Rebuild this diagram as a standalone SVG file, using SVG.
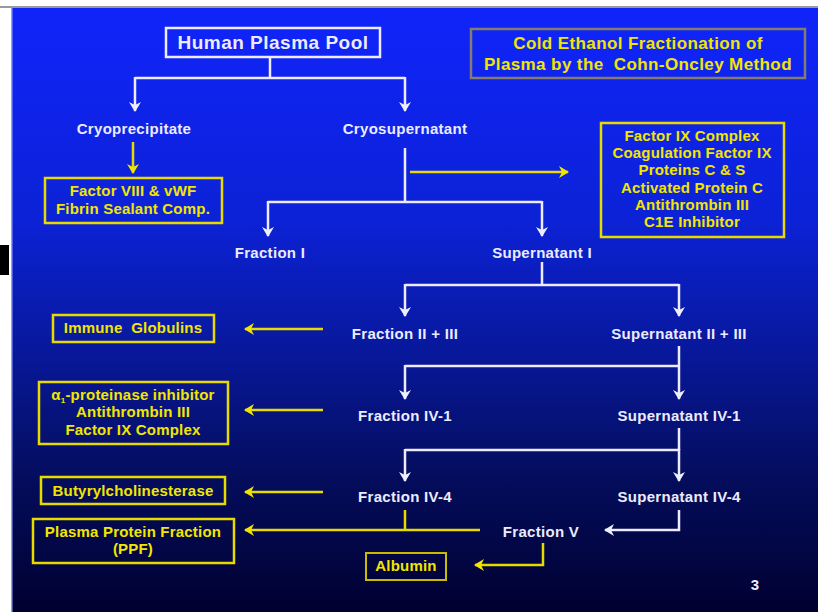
<svg xmlns="http://www.w3.org/2000/svg" width="818" height="612" viewBox="0 0 818 612">
  <defs>
    <linearGradient id="bg" x1="0" y1="0" x2="0" y2="1">
      <stop offset="0" stop-color="#1024fa"/>
      <stop offset="0.35" stop-color="#0c22d6"/>
      <stop offset="0.55" stop-color="#0819a0"/>
      <stop offset="0.78" stop-color="#040d5c"/>
      <stop offset="1" stop-color="#000030"/>
    </linearGradient>
    <marker id="aw" viewBox="0 0 10 12" markerWidth="10" markerHeight="12" refX="9" refY="6" orient="auto" markerUnits="userSpaceOnUse">
      <path d="M0,0 L10,6 L0,12 L3,6 Z" fill="#eeeeff"/>
    </marker>
    <marker id="ay" viewBox="0 0 10 12" markerWidth="10" markerHeight="12" refX="9" refY="6" orient="auto" markerUnits="userSpaceOnUse">
      <path d="M0,0 L10,6 L0,12 L3,6 Z" fill="#f2e600"/>
    </marker>
    <style>
      text { font-family: "Liberation Sans", Arial, sans-serif; font-weight: bold; text-anchor: middle; white-space: pre; }
      .w { fill: #ecebff; font-size: 15px; letter-spacing: 0.3px; }
      .y { fill: #f2e600; font-size: 15px; letter-spacing: 0.2px; }
      .t { fill: #f2e600; font-size: 17px; letter-spacing: 0.4px; }
      .lw { fill: none; stroke: #ecebff; stroke-width: 2.5; }
      .lwa { fill: none; stroke: #ecebff; stroke-width: 2.5; marker-end: url(#aw); }
      .ly { fill: none; stroke: #e6da00; stroke-width: 2.5; }
      .lya { fill: none; stroke: #e6da00; stroke-width: 2.5; marker-end: url(#ay); }
      .box { fill: none; stroke: #e6da00; stroke-width: 2.5; }
    </style>
  </defs>

  <!-- page frame -->
  <rect x="0" y="0" width="818" height="612" fill="#ffffff"/>
  <rect x="0" y="6" width="818" height="2" fill="#9a9a9a"/>
  <rect x="12" y="8" width="806" height="604" fill="url(#bg)"/>
  <rect x="11" y="8" width="1.5" height="604" fill="#8fa0ff"/>
  <rect x="0" y="245" width="9" height="30" fill="#000000"/>

  <!-- connectors -->
  <g id="connectors">
    <path class="lw" d="M270,57 V78 M135,78 H405"/>
    <path class="lwa" d="M135,77 V111"/>
    <path class="lwa" d="M405,77 V111"/>
    <path class="lya" d="M133,142 V173"/>
    <path class="lw" d="M405,148 V202 M268,202 H542"/>
    <path class="lya" d="M410,172 H568"/>
    <path class="lwa" d="M268,201 V236"/>
    <path class="lwa" d="M542,201 V236"/>
    <path class="lw" d="M542,262 V285 M405,285 H679"/>
    <path class="lwa" d="M405,284 V316"/>
    <path class="lwa" d="M679,284 V316"/>
    <path class="lya" d="M323,329 H245"/>
    <path class="lw" d="M405,366 H679"/>
    <path class="lwa" d="M679,346 V399"/>
    <path class="lwa" d="M405,365 V399"/>
    <path class="lya" d="M323,410 H245"/>
    <path class="lw" d="M679,428 V450 M405,450 H679"/>
    <path class="lwa" d="M405,449 V481"/>
    <path class="lwa" d="M679,449 V481"/>
    <path class="lya" d="M323,492 H245"/>
    <path class="ly" d="M405,510 V530"/>
    <path class="lya" d="M480,530 H245"/>
    <path class="lwa" d="M679,510 V530 H605"/>
    <path class="lya" d="M543,543 V565 H475"/>
  </g>

  <!-- nodes -->
  <g id="pool">
    <rect x="166" y="28" width="214" height="29" fill="none" stroke="#ecebff" stroke-width="2.5"/>
    <text x="273" y="49" style="fill:#ecebff;font-size:19px;letter-spacing:0.5px">Human Plasma Pool</text>
  </g>
  <g id="title">
    <rect x="471" y="29" width="334" height="49" fill="none" stroke="#847c6c" stroke-width="2.5"/>
    <text class="t" x="638" y="49">Cold Ethanol Fractionation of</text>
    <text class="t" x="638" y="70">Plasma by the  Cohn-Oncley Method</text>
  </g>
  <g id="cryoprecipitate"><text class="w" x="134" y="134">Cryoprecipitate</text></g>
  <g id="cryosupernatant"><text class="w" x="405" y="134">Cryosupernatant</text></g>
  <g id="factor8">
    <rect class="box" x="45" y="178" width="177" height="45"/>
    <text class="y" x="133" y="196">Factor VIII &amp; vWF</text>
    <text class="y" x="133" y="214">Fibrin Sealant Comp.</text>
  </g>
  <g id="factor9">
    <rect class="box" x="601" y="123" width="183" height="114"/>
    <text class="y" x="692" y="141">Factor IX Complex</text>
    <text class="y" x="692" y="158">Coagulation Factor IX</text>
    <text class="y" x="692" y="175">Proteins C &amp; S</text>
    <text class="y" x="692" y="193">Activated Protein C</text>
    <text class="y" x="692" y="210">Antithrombin III</text>
    <text class="y" x="692" y="227">C1E Inhibitor</text>
  </g>
  <g id="fraction1"><text class="w" x="270" y="258">Fraction I</text></g>
  <g id="supernatant1"><text class="w" x="542" y="258">Supernatant I</text></g>
  <g id="fraction2"><text class="w" x="405" y="339">Fraction II + III</text></g>
  <g id="supernatant2"><text class="w" x="679" y="339">Supernatant II + III</text></g>
  <g id="globulins">
    <rect class="box" x="53" y="315" width="161" height="27"/>
    <text class="y" x="133" y="333">Immune  Globulins</text>
  </g>
  <g id="fraction41"><text class="w" x="405" y="421">Fraction IV-1</text></g>
  <g id="supernatant41"><text class="w" x="679" y="421">Supernatant IV-1</text></g>
  <g id="proteinase">
    <rect class="box" x="39" y="382" width="189" height="62"/>
    <text class="y" x="133" y="400">α<tspan dy="3" font-size="8">1</tspan><tspan dy="-3">-proteinase inhibitor</tspan></text>
    <text class="y" x="133" y="417">Antithrombin III</text>
    <text class="y" x="133" y="435">Factor IX Complex</text>
  </g>
  <g id="fraction44"><text class="w" x="405" y="502">Fraction IV-4</text></g>
  <g id="supernatant44"><text class="w" x="679" y="502">Supernatant IV-4</text></g>
  <g id="butyryl">
    <rect class="box" x="41" y="477" width="184" height="27"/>
    <text class="y" x="133" y="496">Butyrylcholinesterase</text>
  </g>
  <g id="ppf">
    <rect class="box" x="33" y="519" width="201" height="44"/>
    <text class="y" x="133" y="537">Plasma Protein Fraction</text>
    <text class="y" x="133" y="554">(PPF)</text>
  </g>
  <g id="fraction5"><text class="w" x="541" y="537">Fraction V</text></g>
  <g id="albumin">
    <rect x="366" y="553" width="80" height="27" fill="none" stroke="#c8bc00" stroke-width="2"/>
    <text class="y" x="406" y="571">Albumin</text>
  </g>
  <text class="w" x="755" y="590">3</text>
</svg>
